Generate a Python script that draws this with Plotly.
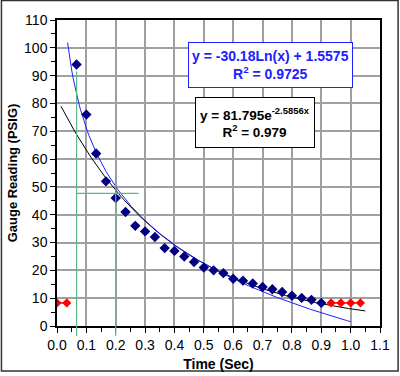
import numpy as np
import plotly.graph_objects as go

# Data
time_blue = [2/30, 3/30, 4/30, 5/30, 6/30, 7/30, 8/30, 9/30, 10/30, 11/30, 12/30, 13/30, 14/30,
             15/30, 16/30, 17/30, 18/30, 19/30, 20/30, 21/30, 22/30, 23/30, 24/30, 25/30, 26/30, 27/30]
gauge_blue = [94, 76, 62, 52, 46, 41, 36, 34, 32, 28, 27, 25, 23,
              21, 20, 19, 17, 16.3, 15.3, 14, 13.2, 12.2, 10.9, 10.1, 9.4, 8.3]
time_red_left = [0.0, 1/30]
gauge_red_left = [8.3, 8.3]
time_red_right = [28/30, 29/30, 30/30, 31/30]
gauge_red_right = [8.3, 8.3, 8.3, 8.3]

# Trendline equations shown on the chart
log_a, log_b = -30.18, 1.5575          # y = a ln(x) + b
exp_a, exp_k = 81.795, -2.5856         # y = a e^(k x)
log_range = (0.036, 1.0)
exp_range = (0.0135, 1.05)

x_log = np.linspace(*log_range, 200)
y_log = log_a * np.log(x_log) + log_b
x_exp = np.linspace(*exp_range, 200)
y_exp = exp_a * np.exp(exp_k * x_exp)

x_ticks = [round(0.1 * i, 1) for i in range(12)]
x_ticklabels = [f"{v:.1f}" for v in x_ticks]
y_ticks = list(range(0, 111, 10))

FONT = "Liberation Sans, Arial, sans-serif"

fig = go.Figure()
fig.add_trace(go.Scatter(x=x_exp, y=y_exp, mode="lines", line=dict(color="black", width=1), hoverinfo="skip"))
fig.add_trace(go.Scatter(x=x_log, y=y_log, mode="lines", line=dict(color="#2020ff", width=1), hoverinfo="skip"))
fig.add_trace(go.Scatter(x=time_blue, y=gauge_blue, mode="markers",
                         marker=dict(symbol="diamond", color="#000080", size=8)))
fig.add_trace(go.Scatter(x=time_red_left, y=gauge_red_left, mode="lines+markers",
                         line=dict(color="red", width=1.5),
                         marker=dict(symbol="diamond", color="red", size=7)))
fig.add_trace(go.Scatter(x=time_red_right, y=gauge_red_right, mode="lines+markers",
                         line=dict(color="red", width=1.5),
                         marker=dict(symbol="diamond", color="red", size=7)))

green = "#5cb88a"
shapes = [
    dict(type="line", xref="x", yref="paper", x0=2/30, x1=2/30, y0=-3.6/110, y1=91.5/110,
         line=dict(color=green, width=1.2)),
    dict(type="line", xref="x", yref="paper", x0=0.2, x1=0.2, y0=-3.6/110, y1=53.7/110,
         line=dict(color=green, width=1.2)),
    dict(type="line", xref="x", yref="y", x0=2/30, x1=0.278, y0=47.7, y1=47.7,
         line=dict(color=green, width=1.2)),
    dict(type="rect", xref="paper", yref="paper", x0=-0.172, x1=1.056, y0=-0.147, y1=1.064,
         line=dict(color="#333333", width=1.5)),
]

annotations = [
    dict(x=0.7255, y=93.8, xref="x", yref="y", showarrow=False,
         text="<b>y = -30.18Ln(x) + 1.5575<br>R<sup>2</sup> = 0.9725</b>",
         font=dict(family=FONT, size=14, color="#2020ff"), align="center", height=38,
         bgcolor="white", bordercolor="#2020ff", borderwidth=1, borderpad=3),
    dict(x=0.673, y=73.1, xref="x", yref="y", showarrow=False,
         text="<b>y = 81.795e<sup>-2.5856x</sup><br>R<sup>2</sup> = 0.979</b>",
         font=dict(family=FONT, size=13.5, color="black"), align="center", height=41,
         bgcolor="white", bordercolor="black", borderwidth=1, borderpad=4),
]

fig.update_layout(
    width=400, height=376,
    margin=dict(l=57, r=20, t=20, b=50, autoexpand=False),
    paper_bgcolor="white", plot_bgcolor="white",
    showlegend=False,
    font=dict(family=FONT, size=13, color="black"),
    shapes=shapes, annotations=annotations,
    xaxis=dict(range=[0, 1.1], tickvals=x_ticks, ticktext=x_ticklabels,
               showgrid=True, gridcolor="#a0a0a0", gridwidth=2,
               showline=True, linecolor="black", linewidth=1.5, mirror=True,
               ticks="outside", ticklen=5, tickcolor="black",
               minor=dict(dtick=0.05, ticks="outside", ticklen=4, tickcolor="black", showgrid=False),
               zeroline=False, fixedrange=True, automargin=False,
               title=dict(text="<b>Time (Sec)</b>", font=dict(size=14), standoff=8),
               tickfont=dict(size=14)),
    yaxis=dict(range=[0, 110], tickvals=y_ticks,
               showgrid=True, gridcolor="#a0a0a0", gridwidth=2,
               showline=True, linecolor="black", linewidth=1.5, mirror=True,
               ticks="outside", ticklen=5, tickcolor="black",
               minor=dict(dtick=5, ticks="outside", ticklen=4, tickcolor="black", showgrid=False),
               zeroline=False, fixedrange=True, automargin=False,
               title=dict(text="<b>Gauge Reading (PSIG)</b>", font=dict(size=13), standoff=4),
               tickfont=dict(size=14)),
)

fig.write_html("out.html", config={"displayModeBar": False},
               post_script="document.body.style.margin='0px';document.body.style.overflow='hidden';")
